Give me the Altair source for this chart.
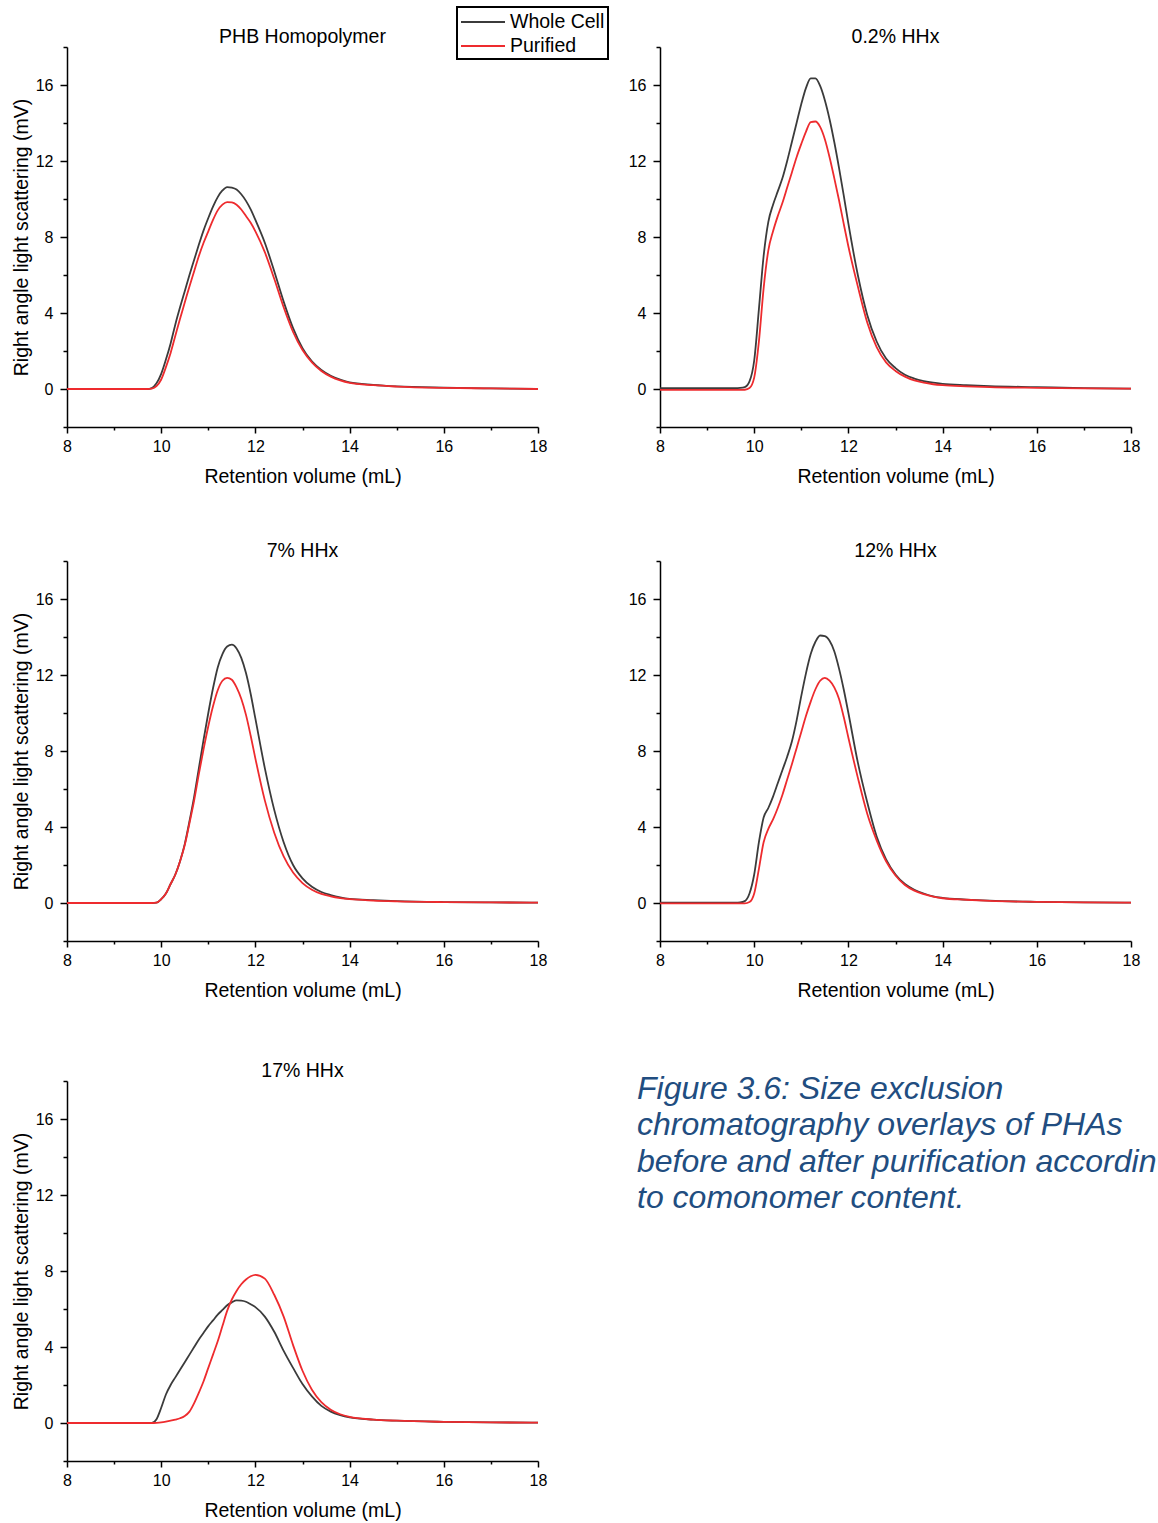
import altair as alt
import pandas as pd

# Retention volume grid (mL) shared by every trace
volume = [8.0, 9.0, 9.6, 9.7, 9.8, 9.9, 10.0, 10.1, 10.2, 10.3, 10.4, 10.5,
          10.6, 10.7, 10.8, 10.9, 11.0, 11.1, 11.2, 11.3, 11.4, 11.5, 11.6, 11.7,
          11.8, 11.9, 12.0, 12.2, 12.4, 12.6, 12.8, 13.0, 13.2, 13.4, 13.6, 13.8,
          14.0, 14.5, 15.0, 16.0, 17.0, 18.0]

panels = ["PHB Homopolymer", "0.2% HHx", "7% HHx", "12% HHx", "17% HHx"]
samples = ["Whole Cell", "Purified"]

# Right angle light scattering (mV)
phb_whole = [0, 0, 0, 0, 0.05, 0.3, 0.8, 1.55, 2.4, 3.4, 4.3, 5.15,
             6.0, 6.8, 7.6, 8.35, 9.0, 9.6, 10.1, 10.45, 10.63, 10.6, 10.5, 10.25,
             9.9, 9.45, 8.9, 7.7, 6.2, 4.6, 3.2, 2.15, 1.45, 1.0, 0.7, 0.5,
             0.35, 0.22, 0.14, 0.07, 0.03, 0.0]
phb_purified = [0, 0, 0, 0, 0.02, 0.15, 0.5, 1.15, 1.9, 2.8, 3.7, 4.55,
                5.4, 6.2, 7.0, 7.7, 8.3, 8.9, 9.4, 9.7, 9.84, 9.82, 9.7, 9.45,
                9.1, 8.75, 8.3, 7.2, 5.8, 4.3, 3.0, 2.05, 1.4, 0.95, 0.65, 0.45,
                0.32, 0.2, 0.13, 0.06, 0.03, 0.0]

hhx02_whole = [0.05, 0.05, 0.05, 0.06, 0.1, 0.4, 1.5, 4.2, 7.0, 8.8, 9.7, 10.4,
               11.1, 12.0, 13.0, 14.0, 15.0, 15.85, 16.35, 16.35, 15.95, 15.2, 14.2, 13.0,
               11.65, 10.2, 8.7, 6.0, 3.9, 2.5, 1.6, 1.1, 0.75, 0.55, 0.42, 0.33,
               0.27, 0.2, 0.15, 0.1, 0.05, 0.02]
hhx02_purified = [-0.05, -0.05, -0.05, -0.05, -0.04, 0.05, 0.6, 2.5, 5.3, 7.3, 8.3, 9.1,
                  9.8, 10.6, 11.4, 12.2, 12.9, 13.55, 14.05, 14.08, 13.8, 13.15, 12.2, 11.1,
                  9.95, 8.7, 7.5, 5.4, 3.5, 2.2, 1.4, 0.95, 0.65, 0.45, 0.33, 0.25,
                  0.2, 0.14, 0.1, 0.06, 0.03, 0.02]

hhx7_whole = [0, 0, 0, 0, 0, 0.02, 0.2, 0.5, 1.0, 1.5, 2.2, 3.1,
              4.3, 5.6, 7.1, 8.6, 10.0, 11.3, 12.4, 13.1, 13.5, 13.6, 13.4, 12.9,
              12.1, 11.0, 9.7, 7.1, 4.9, 3.2, 2.0, 1.3, 0.85, 0.58, 0.42, 0.3,
              0.22, 0.15, 0.1, 0.05, 0.03, 0.02]
hhx7_purified = [0, 0, 0, 0, 0, 0.02, 0.2, 0.5, 1.0, 1.5, 2.2, 3.05,
                 4.2, 5.4, 6.8, 8.1, 9.3, 10.35, 11.2, 11.7, 11.85, 11.75, 11.35, 10.75,
                 9.9, 8.8, 7.6, 5.4, 3.7, 2.45, 1.6, 1.05, 0.7, 0.48, 0.35, 0.26,
                 0.2, 0.13, 0.09, 0.05, 0.03, 0.02]

hhx12_whole = [0.02, 0.02, 0.02, 0.03, 0.1, 0.5, 1.5, 3.2, 4.5, 5.0, 5.6, 6.3,
               7.0, 7.7, 8.5, 9.6, 10.9, 12.1, 13.1, 13.75, 14.08, 14.05, 13.8, 13.25,
               12.35, 11.25, 10.0, 7.4, 5.3, 3.5, 2.3, 1.5, 1.0, 0.7, 0.5, 0.35,
               0.27, 0.18, 0.12, 0.06, 0.03, 0.02]
hhx12_purified = [-0.02, -0.02, -0.02, -0.02, -0.02, 0.05, 0.5, 1.8, 3.2, 3.9, 4.4, 5.0,
                  5.7, 6.5, 7.3, 8.15, 9.0, 9.85, 10.6, 11.25, 11.7, 11.85, 11.7, 11.35,
                  10.75, 9.8, 8.7, 6.6, 4.7, 3.3, 2.2, 1.45, 0.95, 0.65, 0.47, 0.34,
                  0.25, 0.17, 0.11, 0.06, 0.03, 0.02]

hhx17_whole = [0, 0, 0, 0, 0, 0.2, 0.8, 1.5, 2.0, 2.4, 2.8, 3.2,
               3.6, 4.0, 4.4, 4.75, 5.1, 5.4, 5.7, 5.95, 6.2, 6.35, 6.45, 6.44,
               6.38, 6.25, 6.1, 5.6, 4.8, 3.8, 2.9, 2.05, 1.4, 0.9, 0.6, 0.42,
               0.3, 0.18, 0.12, 0.06, 0.03, 0.02]
hhx17_purified = [0, 0, 0, 0, 0, 0.01, 0.03, 0.07, 0.12, 0.18, 0.25, 0.37,
                  0.6, 1.05, 1.6, 2.2, 2.9, 3.6, 4.3, 5.1, 5.9, 6.5, 6.95, 7.3,
                  7.55, 7.72, 7.8, 7.6, 6.75, 5.6, 4.1, 2.75, 1.75, 1.1, 0.7, 0.46,
                  0.32, 0.18, 0.12, 0.06, 0.03, 0.02]

traces = {
    "PHB Homopolymer": (phb_whole, phb_purified),
    "0.2% HHx": (hhx02_whole, hhx02_purified),
    "7% HHx": (hhx7_whole, hhx7_purified),
    "12% HHx": (hhx12_whole, hhx12_purified),
    "17% HHx": (hhx17_whole, hhx17_purified),
}

caption_lines = [
    "Figure 3.6: Size exclusion",
    "chromatography overlays of PHAs",
    "before and after purification according",
    "to comonomer content.",
]

rows = []
for name in panels:
    for sample, values in zip(samples, traces[name]):
        for v, s in zip(volume, values):
            rows.append({"panel": name, "sample": sample, "volume": v, "signal": s})
df = pd.DataFrame(rows)

FONT = "Liberation Sans"
colour = alt.Color(
    "sample:N",
    scale=alt.Scale(domain=samples, range=["#3b3b3b", "#ee2b2e"]),
    legend=alt.Legend(
        title=None,
        orient="none",
        legendX=390,
        legendY=-40,
        symbolType="M-2,0L2,0",
        symbolSize=484,
        symbolOffset=11,
        symbolStrokeWidth=1.8,
        labelFontSize=19.5,
        labelFont=FONT,
        labelColor="black",
        labelOffset=15,
        rowPadding=2,
        padding=3,
        strokeColor="black",
        cornerRadius=0,
    ),
)


def panel(name, y_title):
    x = alt.X(
        "volume:Q",
        scale=alt.Scale(domain=[8, 18], nice=False, zero=False),
        axis=alt.Axis(
            values=list(range(8, 19)),
            labelExpr="datum.value % 2 === 0 ? datum.label : ''",
            labelFlush=False,
            labelPadding=5,
            tickSize={"condition": {"test": "datum.value % 2 === 0", "value": 6}, "value": 3},
            title="Retention volume (mL)",
            titlePadding=13,
        ),
    )
    y_axis = dict(
        values=list(range(-2, 19, 2)),
        labelExpr="datum.value % 4 === 0 ? datum.label : ''",
        labelFlush=False,
        labelPadding=7,
        titlePadding=4,
        tickSize={"condition": {"test": "datum.value % 4 === 0", "value": 7}, "value": 4},
    )
    y = alt.Y(
        "signal:Q",
        scale=alt.Scale(domain=[-2, 18], nice=False, zero=False),
        axis=alt.Axis(title=y_title, **y_axis) if y_title else alt.Axis(title=None, **y_axis),
    )
    return (
        alt.Chart(df[df["panel"] == name])
        .mark_line(strokeWidth=1.8, interpolate="monotone")
        .encode(x=x, y=y, color=colour, order=alt.Order("volume:Q"))
        .properties(
            width=471,
            height=380,
            title=alt.TitleParams(name, fontSize=19.5, fontWeight="normal", font=FONT,
                                  color="black", offset=-1),
        )
    )


ytitle = "Right angle light scattering (mV)"
# The last caption line runs past the page edge, so it is cut at the width limit
caption = (
    alt.Chart(pd.DataFrame({"caption": ["\n".join(caption_lines)]}))
    .mark_text(align="left", baseline="top", fontSize=32, fontStyle="italic",
               font=FONT, color="#214d80", lineHeight=36.3, lineBreak="\n",
               limit=522, ellipsis="\u200b")
    .encode(x=alt.value(4), y=alt.value(-7), text="caption:N")
    .properties(width=520, height=200)
)

row1 = alt.hconcat(panel(panels[0], ytitle), panel(panels[1], None), spacing=81)
row2 = alt.hconcat(panel(panels[2], ytitle), panel(panels[3], None), spacing=81)
row3 = alt.hconcat(panel(panels[4], ytitle), caption, spacing=86)

chart = (
    alt.vconcat(alt.vconcat(row1, row2, spacing=54), row3, spacing=60)
    .properties(padding={"left": 11, "top": 6, "right": 0, "bottom": 5})
    .configure(font=FONT)
    .configure_view(stroke=None)
    .configure_legend(strokeWidth=2)
    .configure_axis(
        grid=False,
        domainColor="black",
        domainWidth=1.5,
        tickColor="black",
        tickWidth=1.5,
        labelFont=FONT,
        labelFontSize=16,
        labelColor="black",
        titleFont=FONT,
        titleFontSize=19.5,
        titleFontWeight="normal",
        titleColor="black",
    )
)

chart.save("out.html", embed_options={"renderer": "svg", "actions": False})
